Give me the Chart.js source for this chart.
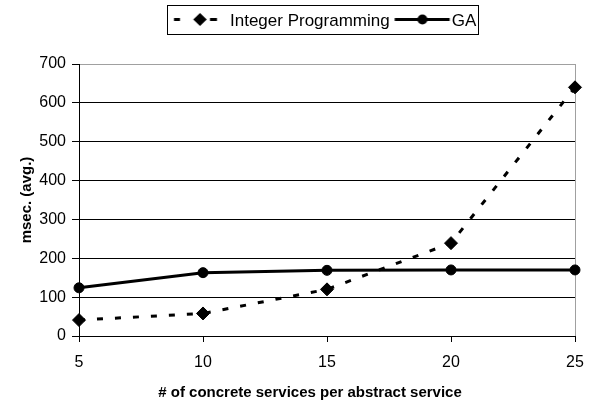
<!DOCTYPE html>
<html><head><meta charset="utf-8">
<script src="https://cdn.jsdelivr.net/npm/chart.js@4.4.0/dist/chart.umd.min.js"></script>
<style>html,body{margin:0;padding:0;background:#fff;}#wrap{width:590px;height:406px;}</style>
</head><body><div id="wrap"><canvas id="c" width="590" height="406"></canvas></div>
<script>
const categories = ['5', '10', '15', '20', '25'];
const seriesNames = ['Integer Programming', 'GA'];
const integerProgramming = [41, 58, 120, 239, 640];
const gaValues = [124, 163, 169, 170, 170];
const yTicks = [0, 100, 200, 300, 400, 500, 600, 700];
const xTitle = '# of concrete services per abstract service';
const yTitle = 'msec. (avg.)';

const FAMILY = "'Liberation Sans', Arial, sans-serif";
const LEG_FS = 17;
const LEG_W = 47.5;
const LEG_PAD = 6;
const LEG_TEXT_X = 230;
const LEG_TOP = 6.5;

function makeSymbol(drawFn) {
  const R = 40, H = 18;
  const c = document.createElement('canvas');
  c.width = 2 * R; c.height = H;
  const g = c.getContext('2d');
  g.translate(R, H / 2 - 1.5);
  g.fillStyle = '#000'; g.strokeStyle = '#000';
  drawFn(g);
  return c;
}
const ipSymbol = makeSymbol(g => {
  g.fillRect(-23.75, -1.5, 6, 3);
  g.fillRect(12.25, -1.5, 7, 3);
  g.beginPath(); g.moveTo(2.25, -6.5); g.lineTo(9, 0); g.lineTo(2.25, 6.5); g.lineTo(-4.5, 0); g.closePath(); g.fill();
});
const gaSymbol = makeSymbol(g => {
  g.fillRect(-24.75, -1.5, 55, 3);
  g.beginPath(); g.arc(3, 0, 5, 0, Math.PI * 2); g.fill();
});
const symbols = [ipSymbol, gaSymbol];

const excelLayout = {
  id: 'excelLayout',
  afterLayout(chart) {
    const lg = chart.legend;
    if (!lg || !lg.lineWidths) return;
    const p = lg.options.labels.padding;
    const start = (lg.left + p + lg.right - lg.lineWidths[0]) / 2;
    const target = LEG_TEXT_X - LEG_W - LEG_FS / 2;
    const dx = target - start;
    lg.left += dx; lg.right += dx;
    const dy = LEG_TOP - lg.top;
    lg.top += dy; lg.bottom += dy;
  },
  afterDraw(chart) {
    const lg = chart.legend;
    const hb = lg && lg.legendHitBoxes;
    if (!hb || hb.length < 2) return;
    const ctx = chart.ctx;
    ctx.save();
    ctx.strokeStyle = '#000'; ctx.lineWidth = 1;
    const cy = hb[0].top + hb[0].height / 2;
    const x1 = Math.round(hb[0].left - 7) + 0.5;
    const x2 = Math.round(hb[1].left + hb[1].width + 2) + 0.5;
    const y1 = Math.round(cy - 16) + 0.5, y2 = Math.round(cy + 13) + 0.5;
    ctx.strokeRect(x1, y1, x2 - x1, y2 - y1);
    ctx.restore();
  }
};

new Chart(document.getElementById('c'), {
  type: 'line',
  data: {
    labels: categories,
    datasets: [
      {
        label: seriesNames[0], data: integerProgramming,
        borderColor: '#000', backgroundColor: '#000', borderWidth: 3, borderDash: [6, 12],
        pointStyle: 'rectRot', pointRadius: 6.5, pointBackgroundColor: '#000', pointBorderColor: '#000', pointBorderWidth: 1,
        tension: 0, clip: false
      },
      {
        label: seriesNames[1], data: gaValues,
        borderColor: '#000', backgroundColor: '#000', borderWidth: 3,
        pointStyle: 'circle', pointRadius: 5, pointBackgroundColor: '#000', pointBorderColor: '#000', pointBorderWidth: 1,
        tension: 0, clip: false
      }
    ]
  },
  options: {
    responsive: false, animation: false, devicePixelRatio: 1,
    layout: { padding: { left: 30, top: 5, right: 0, bottom: 0 } },
    plugins: {
      tooltip: { enabled: false },
      legend: {
        position: 'top',
        labels: {
          usePointStyle: true, pointStyleWidth: LEG_W, padding: LEG_PAD, color: '#000',
          font: { family: FAMILY, size: LEG_FS },
          generateLabels(chart) {
            const items = Chart.defaults.plugins.legend.labels.generateLabels(chart);
            items.forEach((it, i) => { it.pointStyle = symbols[i]; });
            return items;
          }
        }
      },
      title: {
        display: true, position: 'bottom', text: xTitle, color: '#000',
        font: { family: FAMILY, size: 15, weight: 'bold' }, padding: { top: 0, bottom: 4 }
      }
    },
    scales: {
      x: {
        type: 'category', offset: false,
        grid: {
          drawOnChartArea: true, tickLength: 6, lineWidth: 1, tickColor: '#000',
          color: ctx => (ctx.index === categories.length - 1 ? '#a0a0a0' : 'rgba(0,0,0,0)')
        },
        border: { color: '#000', width: 1 },
        ticks: { color: '#000', font: { family: FAMILY, size: 16 }, padding: 11, maxRotation: 0 },
        afterFit(s) { s.height = 48; s.paddingRight = 15; }
      },
      y: {
        min: yTicks[0], max: yTicks[yTicks.length - 1],
        ticks: { stepSize: yTicks[1] - yTicks[0], color: '#000', font: { family: FAMILY, size: 16 }, padding: 6 },
        grid: {
          tickLength: 7, lineWidth: 1, tickColor: '#000',
          color: ctx => (ctx.tick && ctx.tick.value === yTicks[yTicks.length - 1] ? '#a0a0a0' : '#000')
        },
        border: { color: '#000', width: 1 },
        title: {
          display: true, text: yTitle, color: '#000',
          font: { family: FAMILY, size: 15, weight: 'bold' }, padding: { top: -12, bottom: 0 }
        },
        afterFit(s) { s.width = 49; s.paddingTop = 64; }
      }
    }
  },
  plugins: [excelLayout]
});
</script>
</body></html>
